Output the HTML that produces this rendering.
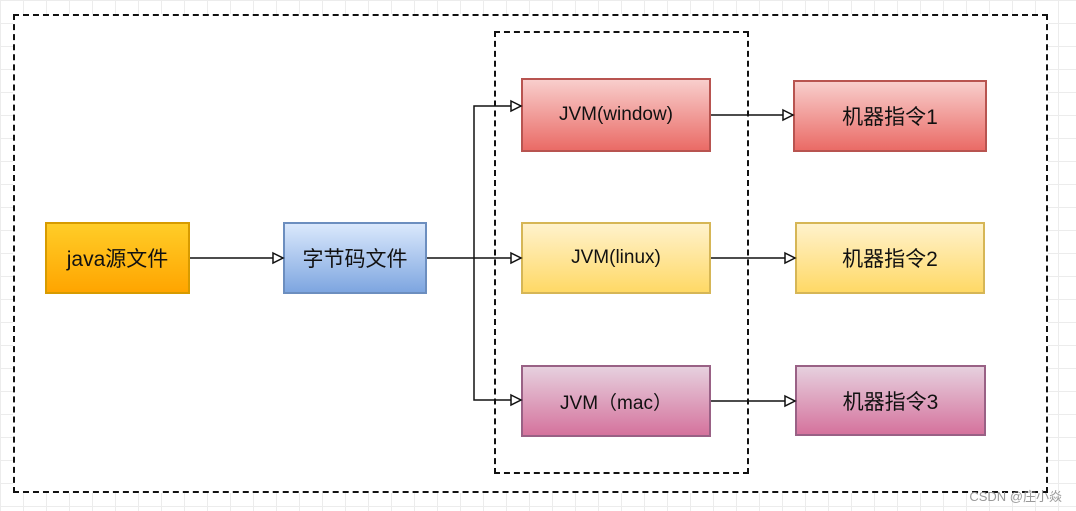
<!DOCTYPE html>
<html><head><meta charset="utf-8"><style>
body{margin:0;width:1076px;height:511px;overflow:hidden;background:#fff;
background-image:linear-gradient(#ececec 1px,transparent 1px),linear-gradient(90deg,#ececec 1px,transparent 1px);background-size:23px 23px;font-family:"Liberation Sans","Noto Sans CJK SC",sans-serif;position:relative}
.outer{position:absolute;left:13px;top:14px;width:1031px;height:475px;border:2px dashed #111;background:#fff}
.inner{position:absolute;left:494px;top:31px;width:251px;height:439px;border:2px dashed #111}
.b{position:absolute;display:flex;align-items:center;justify-content:center;font-size:21px;color:#111;box-sizing:border-box;border:2px solid}
.wm{position:absolute;right:14px;bottom:6px;color:#999;font-size:13px}
</style></head><body>
<div class="outer"></div>
<div class="inner"></div>
<div class="b" style="left:45px;top:222px;width:145px;height:72px;background:linear-gradient(#ffcd28,#ffa500);border-color:#d79b00">java源文件</div>
<div class="b" style="left:283px;top:222px;width:144px;height:72px;background:linear-gradient(#dae8fc,#7ea6e0);border-color:#6c8ebf">字节码文件</div>
<div class="b" style="left:521px;top:78px;width:190px;height:74px;background:linear-gradient(#f8cecc,#ea6b66);border-color:#b85450;font-size:19px">JVM(window)</div>
<div class="b" style="left:521px;top:222px;width:190px;height:72px;background:linear-gradient(#fff2cc,#ffd966);border-color:#d6b656;font-size:19px">JVM(linux)</div>
<div class="b" style="left:521px;top:365px;width:190px;height:72px;background:linear-gradient(#e6d0de,#d5739d);border-color:#996185;font-size:19px">JVM（mac）</div>
<div class="b" style="left:793px;top:80px;width:194px;height:72px;background:linear-gradient(#f8cecc,#ea6b66);border-color:#b85450">机器指令1</div>
<div class="b" style="left:795px;top:222px;width:190px;height:72px;background:linear-gradient(#fff2cc,#ffd966);border-color:#d6b656">机器指令2</div>
<div class="b" style="left:795px;top:365px;width:191px;height:71px;background:linear-gradient(#e6d0de,#d5739d);border-color:#996185">机器指令3</div>
<svg width="1076" height="511" style="position:absolute;left:0;top:0" fill="none" stroke="#111" stroke-width="1.5">
<path d="M190 258H283M427 258H521M474 258V106H521M474 258V400H521M711 115H793M711 258H795M711 401H795"/>
<g fill="#fff"><path d="M273 253L283 258L273 263Z"/><path d="M511 253L521 258L511 263Z"/><path d="M511 101L521 106L511 111Z"/><path d="M511 395L521 400L511 405Z"/><path d="M783 110L793 115L783 120Z"/><path d="M785 253L795 258L785 263Z"/><path d="M785 396L795 401L785 406Z"/></g>
</svg>
<div class="wm">CSDN @庄小焱</div>
</body></html>
